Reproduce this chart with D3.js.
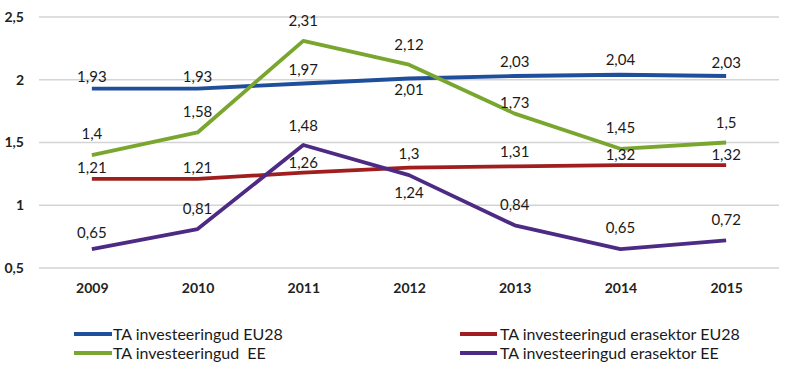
<!DOCTYPE html>
<html lang="et">
<head>
<meta charset="UTF-8">
<title>TA investeeringud</title>
<script src="https://d3js.org/d3.v7.min.js"></script>
<style>
  * { margin: 0; padding: 0; }
  body { background: #fff; }
  svg { display: block; font-family: Lato, "Open Sans", sans-serif; }
</style>
</head>
<body>
<div id="chart"></div>
<script>
// data
const years = ["2009", "2010", "2011", "2012", "2013", "2014", "2015"];
const eu28 = [1.93, 1.93, 1.97, 2.01, 2.03, 2.04, 2.03];
const eraEu28 = [1.21, 1.21, 1.26, 1.3, 1.31, 1.32, 1.32];
const ee = [1.4, 1.58, 2.31, 2.12, 1.73, 1.45, 1.5];
const eraEe = [0.65, 0.81, 1.48, 1.24, 0.84, 0.65, 0.72];
const yTicks = [0.5, 1, 1.5, 2, 2.5];

// label vertical offsets (px from the point to the text baseline)
const series = [
  { name: "TA investeeringud EU28", values: eu28, color: "#1f4e9b", dy: [-7, -7, -9, 17, -9, -10, -8] },
  { name: "TA investeeringud erasektor EU28", values: eraEu28, color: "#a01e1e", dy: [-6, -6, -5, -9, -9, -5, -5] },
  { name: "TA investeeringud  EE", values: ee, color: "#79a62e", dy: [-16, -15, -15, -15, -6, -16, -15] },
  { name: "TA investeeringud erasektor EE", values: eraEe, color: "#4d2b84", dy: [-11, -15, -14, 23, -15, -16, -15] }
];

const w = 800, h = 373;
const svg = d3.select("#chart").append("svg").attr("width", w).attr("height", h);

const x = d3.scalePoint().domain(years).range([39, 779]).padding(0.5);
const y = d3.scaleLinear().domain([0.5, 2.5]).range([268, 17]);

// gridlines
svg.append("g").selectAll("line").data(yTicks).join("line")
  .attr("x1", 39).attr("x2", 779)
  .attr("y1", d => y(d)).attr("y2", d => y(d))
  .attr("stroke", "#d4d4d4").attr("stroke-width", 1.5);

const fmt = v => String(v).replace(".", ",");

// y axis labels
const yAxis = d3.axisLeft(y).tickValues(yTicks).tickFormat(fmt).tickSize(0).tickPadding(0);
svg.append("g").attr("transform", "translate(24,0)").call(yAxis)
  .call(g => g.select(".domain").remove())
  .selectAll("text").attr("font-size", 14).attr("font-weight", 700)
  .attr("fill", "#222").attr("font-family", "Lato, sans-serif");

// x axis labels
const xAxis = d3.axisBottom(x).tickSize(0).tickPadding(0);
svg.append("g").attr("transform", "translate(0,283)").call(xAxis)
  .call(g => g.select(".domain").remove())
  .selectAll("text").attr("font-size", 14).attr("font-weight", 700)
  .attr("fill", "#222").attr("font-family", "Lato, sans-serif");

const line = d3.line().x((d, i) => x(years[i])).y(d => y(d));

series.forEach(s => {
  svg.append("path").datum(s.values)
    .attr("d", line).attr("fill", "none")
    .attr("stroke", s.color).attr("stroke-width", 3.8)
    .attr("stroke-linejoin", "round");
});

// data labels
series.forEach(s => {
  svg.append("g").selectAll("text").data(s.values).join("text")
    .attr("x", (d, i) => x(years[i]))
    .attr("y", (d, i) => y(d) + s.dy[i])
    .attr("text-anchor", "middle")
    .attr("font-size", 15)
    .attr("fill", "#1a1a1a")
    .text(fmt);
});

// legend
const legendPos = [
  { lx: 74, ly: 334 }, { lx: 460, ly: 334 },
  { lx: 74, ly: 353 }, { lx: 460, ly: 353 }
];
const legend = svg.append("g").selectAll("g").data(series).join("g")
  .attr("transform", (d, i) => `translate(${legendPos[i].lx},${legendPos[i].ly})`);
legend.append("line").attr("x1", 0).attr("x2", (d, i) => i % 2 ? 37 : 38).attr("y1", 0).attr("y2", 0)
  .attr("stroke", d => d.color).attr("stroke-width", 3.8);
legend.append("text").attr("x", (d, i) => i % 2 ? 40 : 39).attr("y", 6)
  .attr("font-size", 16).attr("fill", "#1a1a1a")
  .attr("xml:space", "preserve").style("white-space", "pre")
  .text(d => d.name);
</script>
</body>
</html>
